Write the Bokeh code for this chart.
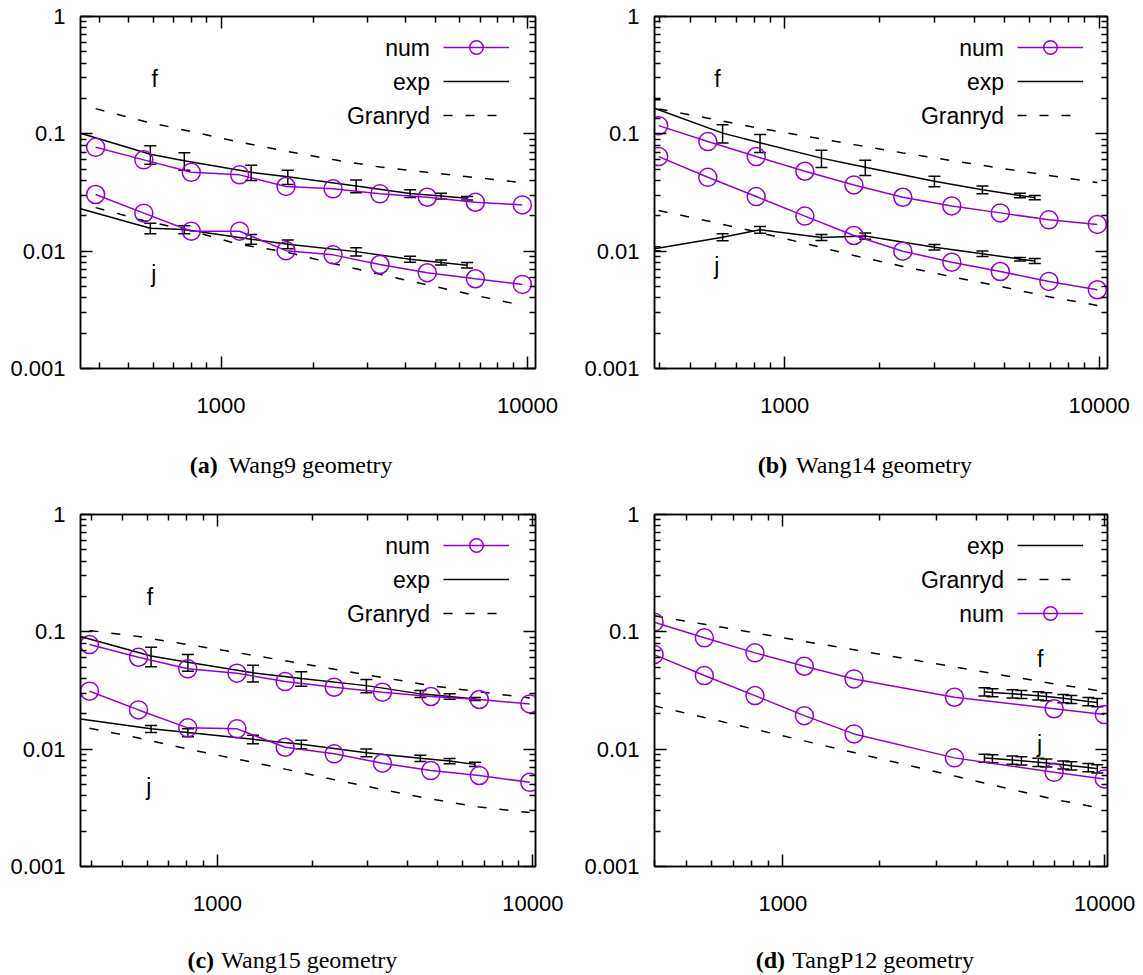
from bokeh.plotting import figure
from bokeh.models import (ColumnDataSource, FixedTicker, Whisker, TeeHead, Label,
                          Legend, LegendItem, LogAxis, Range1d)
from bokeh.layouts import row, column
from bokeh.embed import file_html
from bokeh.resources import INLINE

# ---------------- data ----------------
# Panel (a) Wang9 geometry
a_num_x = [390, 560, 800, 1150, 1630, 2320, 3300, 4710, 6760, 9620]
a_num_f = [0.0767, 0.0600, 0.0470, 0.0447, 0.0356, 0.0340, 0.0308, 0.0288, 0.0261, 0.0248]
a_num_j = [0.0304, 0.0211, 0.0148, 0.0148, 0.0101, 0.0093, 0.0077, 0.00655, 0.00582, 0.00521]
a_exp_x = [348, 588, 759, 1254, 1652, 2760, 4140, 5225, 6350]
a_exp_f = [0.101, 0.067, 0.059, 0.047, 0.043, 0.036, 0.031, 0.0295, 0.0283]
a_exp_f_err = [0, 0.012, 0.010, 0.007, 0.006, 0.0045, 0.0024, 0.0017, 0.0010]
a_exp_j = [0.0230, 0.0157, 0.0153, 0.01266, 0.01148, 0.00991, 0.00853, 0.00802, 0.00760]
a_exp_j_err = [0, 0.0016, 0.0012, 0.0012, 0.0010, 0.0008, 0.0005, 0.0004, 0.0004]
a_gr_f = [0.164, 0.128, 0.1044, 0.0850, 0.0712, 0.0603, 0.0521, 0.0470, 0.0424, 0.0384]
a_gr_j = [0.0235, 0.0182, 0.0149, 0.0114, 0.00984, 0.00786, 0.00634, 0.00516, 0.00420, 0.00345]

# Panel (b) Wang14 geometry
b_num_x = [397, 569, 811, 1158, 1659, 2374, 3398, 4847, 6920, 9866]
b_num_f = [0.1174, 0.0859, 0.0640, 0.0480, 0.0367, 0.0288, 0.0243, 0.0212, 0.0185, 0.0169]
b_num_j = [0.0640, 0.0426, 0.0292, 0.0199, 0.0136, 0.0100, 0.00806, 0.00671, 0.00552, 0.00469]
b_exp_x = [385, 634, 834, 1308, 1803, 2992, 4253, 5598, 6240]
b_exp_f = [0.165, 0.1014, 0.0839, 0.0621, 0.0518, 0.0394, 0.0334, 0.0298, 0.0286]
b_exp_f_err = [0.030, 0.018, 0.0146, 0.0104, 0.0077, 0.0040, 0.0025, 0.0013, 0.0012]
b_exp_j = [0.0105, 0.01315, 0.01524, 0.0131, 0.01346, 0.01082, 0.00951, 0.00855, 0.00826]
b_exp_j_err = [0.0004, 0.0009, 0.0010, 0.0008, 0.0008, 0.0006, 0.0005, 0.0003, 0.0004]
b_gr_f = [0.163, 0.136, 0.113, 0.0955, 0.0809, 0.0688, 0.0591, 0.0510, 0.0441, 0.0384]
b_gr_j = [0.0222, 0.0181, 0.0146, 0.01164, 0.00919, 0.00741, 0.00605, 0.00501, 0.00408, 0.00345]

# Panel (c) Wang15 geometry
c_num_x = [393, 562, 805, 1153, 1639, 2344, 3335, 4747, 6763, 9776]
c_num_f = [0.0779, 0.0607, 0.0484, 0.0444, 0.0377, 0.0337, 0.0306, 0.0281, 0.0265, 0.0243]
c_num_j = [0.0312, 0.0216, 0.0152, 0.0149, 0.01038, 0.00912, 0.00759, 0.00657, 0.00596, 0.00522]
c_exp_x = [368, 616, 806, 1296, 1844, 2965, 4396, 5445, 6550]
c_exp_f = [0.0912, 0.0622, 0.0551, 0.0447, 0.0401, 0.0348, 0.0296, 0.0281, 0.0268]
c_exp_f_err = [0, 0.0117, 0.0090, 0.0073, 0.0057, 0.0045, 0.0020, 0.0015, 0.0008]
c_exp_j = [0.0181, 0.0149, 0.01386, 0.01214, 0.01099, 0.00933, 0.00836, 0.00792, 0.00742]
c_exp_j_err = [0, 0.0010, 0.0011, 0.0010, 0.0009, 0.0007, 0.0005, 0.0004, 0.0003]
c_gr_f = [0.1026, 0.0912, 0.0779, 0.0666, 0.0566, 0.0480, 0.0408, 0.0348, 0.0308, 0.0273]
c_gr_j = [0.0151, 0.01244, 0.01002, 0.00823, 0.00676, 0.00550, 0.00453, 0.00376, 0.00321, 0.00288]

# Panel (d) TangP12 geometry
d_num_x = [398, 570, 819, 1166, 1664, 3414, 6968, 9980]
d_num_f = [0.1208, 0.0889, 0.0662, 0.0509, 0.0397, 0.0277, 0.0221, 0.0197]
d_num_j = [0.0640, 0.0424, 0.0286, 0.0193, 0.01349, 0.00843, 0.00635, 0.00558]
d_exp_x = [4232, 4481, 5169, 5513, 6224, 6593, 7443, 7883, 8900, 9490]
d_exp_f = [0.0309, 0.0304, 0.0297, 0.0293, 0.0285, 0.0281, 0.0271, 0.0266, 0.0255, 0.0250]
d_exp_f_err = [0.0025, 0.0024, 0.0024, 0.0023, 0.0023, 0.0022, 0.0022, 0.0021, 0.0020, 0.0020]
d_exp_j = [0.00840, 0.00832, 0.00809, 0.00798, 0.00775, 0.00764, 0.00735, 0.00722, 0.00697, 0.00682]
d_exp_j_err = [0.00067, 0.00066, 0.00065, 0.00064, 0.00062, 0.00061, 0.00059, 0.00058, 0.00056, 0.00055]
d_gr_f = [0.137, 0.116, 0.0978, 0.0828, 0.0703, 0.0502, 0.0360, 0.0310]
d_gr_j = [0.0234, 0.0186, 0.01475, 0.01177, 0.00935, 0.00590, 0.00374, 0.0031]

# ticks
x_major = [1000, 10000]
x_minor = [300, 400, 500, 600, 700, 800, 900, 2000, 3000, 4000, 5000, 6000, 7000, 8000, 9000]
y_major = [0.001, 0.01, 0.1, 1]
y_minor = [k * m for m in (0.001, 0.01, 0.1) for k in range(2, 10)]
x_labels = {1000: "1000", 10000: "10000"}
y_labels = {1: "1", 0.1: "0.1", 0.01: "0.01", 0.001: "0.001"}

captions = [("(a)", "Wang9 geometry"), ("(b)", "Wang14 geometry"),
            ("(c)", "Wang15 geometry"), ("(d)", "TangP12 geometry")]

PURPLE = "#9400d3"
SANS = "Liberation Sans"
SERIF = "Liberation Serif"


def style_axis(ax, labels, show):
    ax.axis_line_color = "black"
    ax.axis_line_width = 1.5
    ax.major_tick_in = 12
    ax.major_tick_out = 0
    ax.minor_tick_in = 6
    ax.minor_tick_out = 0
    ax.major_tick_line_width = 1.5
    ax.minor_tick_line_width = 1.5
    ax.major_tick_line_color = "black"
    ax.minor_tick_line_color = "black"
    if show:
        ax.major_label_overrides = labels
        ax.major_label_text_font = SANS
        ax.major_label_text_font_size = "22px"
        ax.major_label_text_color = "black"
    else:
        ax.major_label_overrides = {k: "" for k in labels}
        ax.major_label_text_font_size = "2px"
        ax.major_label_text_alpha = 0
        ax.major_label_standoff = 0


def panel(xr, w, bl, br, num_x, num_f, num_j, exp_x, exp_f, exp_f_err,
          exp_j, exp_j_err, gr_f, gr_j, order, f_pos, j_pos):
    p = figure(x_axis_type="log", y_axis_type="log",
               x_range=Range1d(*xr), y_range=Range1d(0.001, 1),
               width=w, height=418,
               min_border_left=bl, min_border_right=br,
               min_border_top=16, min_border_bottom=50,
               output_backend="svg", toolbar_location=None,
               background_fill_color="white", border_fill_color="white")
    p.grid.visible = False
    p.outline_line_color = "black"
    p.outline_line_width = 1.5

    p.xaxis.ticker = FixedTicker(ticks=x_major, minor_ticks=x_minor)
    p.yaxis.ticker = FixedTicker(ticks=y_major, minor_ticks=y_minor)
    style_axis(p.xaxis[0], x_labels, True)
    style_axis(p.yaxis[0], y_labels, True)
    p.xaxis.major_label_standoff = 29
    p.yaxis.major_label_standoff = 15
    top = LogAxis(ticker=FixedTicker(ticks=x_major, minor_ticks=x_minor))
    right = LogAxis(ticker=FixedTicker(ticks=y_major, minor_ticks=y_minor))
    style_axis(top, x_labels, False)
    style_axis(right, y_labels, False)
    p.add_layout(top, "above")
    p.add_layout(right, "right")

    dash = "9 13"
    gf = p.line(num_x, gr_f, line_color="black", line_width=1.5, line_dash=dash)
    p.line(num_x, gr_j, line_color="black", line_width=1.5, line_dash=dash)
    ef = p.line(exp_x, exp_f, line_color="black", line_width=1.5)
    p.line(exp_x, exp_j, line_color="black", line_width=1.5)
    for ys, es in ((exp_f, exp_f_err), (exp_j, exp_j_err)):
        xs = [x for x, e in zip(exp_x, es) if e > 0]
        lo = [y - e for y, e in zip(ys, es) if e > 0]
        hi = [y + e for y, e in zip(ys, es) if e > 0]
        src = ColumnDataSource(dict(x=xs, lower=lo, upper=hi))
        wk = Whisker(source=src, base="x", lower="lower", upper="upper", dimension="height",
                     line_color="black", line_width=1.5,
                     upper_head=TeeHead(size=12, line_color="black", line_width=1.5),
                     lower_head=TeeHead(size=12, line_color="black", line_width=1.5))
        p.add_layout(wk)
    nl = p.line(num_x, num_f, line_color=PURPLE, line_width=1.5)
    ns = p.scatter(num_x, num_f, marker="circle", size=18, line_color=PURPLE,
                   line_width=1.5, fill_alpha=0)
    p.line(num_x, num_j, line_color=PURPLE, line_width=1.5)
    p.scatter(num_x, num_j, marker="circle", size=18, line_color=PURPLE,
              line_width=1.5, fill_alpha=0)

    rends = {"num": [nl, ns], "exp": [ef], "Granryd": [gf]}
    leg = Legend(items=[LegendItem(label=" ", renderers=rends[k]) for k in order],
                 location=(362.5, 236), orientation="vertical",
                 glyph_width=66, glyph_height=34, label_height=34, label_width=1,
                 label_standoff=0, spacing=0, padding=0, margin=0,
                 border_line_alpha=0, background_fill_alpha=0,
                 label_text_font_size="4px")
    p.add_layout(leg)
    for i, k in enumerate(order):
        p.add_layout(Label(x=349.5, y=321 - 34 * i, x_units="screen", y_units="screen",
                           text=k, text_font=SANS, text_font_size="23px",
                           text_align="right", text_baseline="middle", text_color="black"))
    for t, (lx, ly) in (("f", f_pos), ("j", j_pos)):
        p.add_layout(Label(x=lx, y=ly, x_units="screen", y_units="screen",
                           text=t, text_font=SANS, text_font_size="23px",
                           text_align="center", text_baseline="middle", text_color="black"))
    return p


def caption(w, h, bl, br, cap, tag_right, text_left, y):
    c = figure(width=w, height=h, x_range=Range1d(0, 1), y_range=Range1d(0, 1),
               x_axis_location=None, y_axis_location=None,
               min_border_left=bl, min_border_right=br, min_border_top=0, min_border_bottom=0,
               output_backend="svg", toolbar_location=None,
               background_fill_color="white", border_fill_color="white")
    c.grid.visible = False
    c.outline_line_color = None
    c.add_layout(Label(x=tag_right, y=y, x_units="screen", y_units="screen",
                       text=cap[0], text_font=SERIF, text_font_style="bold",
                       text_font_size="24px", text_align="right", text_baseline="middle",
                       text_color="black"))
    c.add_layout(Label(x=text_left, y=y, x_units="screen", y_units="screen",
                       text=cap[1], text_font=SERIF, text_font_size="24px",
                       text_align="left", text_baseline="middle", text_color="black"))
    return c


pa = panel((348, 10620), 581, 80, 46, a_num_x, a_num_f, a_num_j, a_exp_x, a_exp_f,
           a_exp_f_err, a_exp_j, a_exp_j_err, a_gr_f, a_gr_j, ["num", "exp", "Granryd"],
           (74.3, 289.7), (73.2, 94.7))
pb = panel((385, 10630), 556, 72, 30, b_num_x, b_num_f, b_num_j, b_exp_x, b_exp_f,
           b_exp_f_err, b_exp_j, b_exp_j_err, b_gr_f, b_gr_j, ["num", "exp", "Granryd"],
           (62.9, 289.7), (62.2, 103.0))
pc = panel((368, 10190), 581, 80, 46, c_num_x, c_num_f, c_num_j, c_exp_x, c_exp_f,
           c_exp_f_err, c_exp_j, c_exp_j_err, c_gr_f, c_gr_j, ["num", "exp", "Granryd"],
           (69.5, 269.3), (68.4, 79.3))
pd_ = panel((399, 10210), 556, 72, 30, d_num_x, d_num_f, d_num_j, d_exp_x, d_exp_f,
            d_exp_f_err, d_exp_j, d_exp_j_err, d_gr_f, d_gr_j, ["exp", "Granryd", "num"],
            (385.7, 207.7), (385.0, 122.7))

ca = caption(581, 80, 80, 46, captions[0], 137.2, 148.1, 34)
cb = caption(556, 80, 72, 30, captions[1], 132.7, 141.5, 34)
cc = caption(581, 57, 80, 46, captions[2], 133.6, 140.8, 14)
cd = caption(556, 57, 72, 30, captions[3], 130.5, 137.8, 14)

layout = column(row(column(pa, ca), column(pb, cb)), row(column(pc, cc), column(pd_, cd)))
open("out.html", "w").write(file_html(layout, INLINE))
